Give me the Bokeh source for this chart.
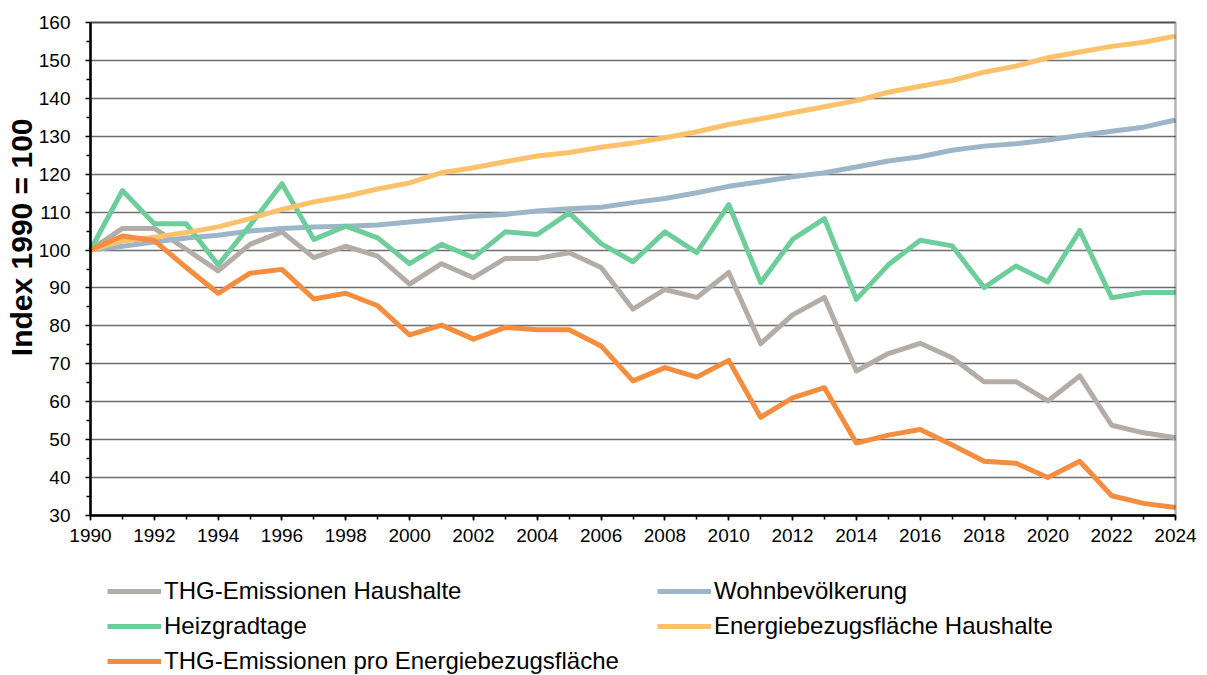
from bokeh.plotting import figure
from bokeh.models import FixedTicker, Legend, LegendItem, Range1d, BoxAnnotation, Title
from bokeh.embed import file_html
from bokeh.resources import INLINE

years = list(range(1990, 2025))

thg_haushalte = [100, 105.7, 105.7, 100.2, 94.5, 101.5, 104.8, 98.0, 101.0, 98.4,
                 91.0, 96.4, 92.7, 97.8, 97.8, 99.3, 95.4, 84.4, 89.6, 87.5,
                 94.1, 75.3, 82.9, 87.5, 68.1, 72.7, 75.4, 71.6, 65.3, 65.3,
                 60.2, 66.8, 53.8, 51.8, 50.5]
wohnbevoelkerung = [100, 101.0, 102.1, 103.2, 103.9, 105.0, 105.7, 106.1, 106.3, 106.6,
                    107.4, 108.1, 108.9, 109.4, 110.3, 110.9, 111.3, 112.5, 113.6, 115.1,
                    116.8, 118.0, 119.3, 120.4, 121.9, 123.5, 124.6, 126.3, 127.4, 128.0,
                    129.0, 130.2, 131.3, 132.4, 134.3]
heizgradtage = [100, 115.7, 106.9, 106.9, 96.1, 106.5, 117.5, 102.8, 106.3, 103.2,
                96.4, 101.5, 98.0, 104.8, 104.1, 109.8, 101.7, 96.9, 104.8, 99.3,
                112.0, 91.4, 102.8, 108.3, 87.0, 96.1, 102.6, 101.1, 90.1, 95.8,
                91.6, 105.2, 87.4, 88.8, 88.8]
energiebezugsflaeche = [100, 102.4, 103.4, 104.6, 106.1, 108.3, 110.7, 112.7, 114.2, 116.1,
                        117.7, 120.4, 121.7, 123.3, 124.8, 125.7, 127.1, 128.2, 129.6, 131.2,
                        133.1, 134.6, 136.2, 137.8, 139.4, 141.6, 143.2, 144.7, 146.9, 148.5,
                        150.7, 152.2, 153.7, 154.8, 156.4]
thg_pro_ebf = [100, 103.7, 102.5, 95.4, 88.6, 93.9, 94.9, 87.1, 88.6, 85.3,
               77.6, 80.2, 76.5, 79.6, 79.0, 79.0, 74.7, 65.5, 69.0, 66.5,
               70.9, 55.9, 61.0, 63.7, 49.1, 51.2, 52.7, 48.6, 44.3, 43.8,
               40.0, 44.3, 35.2, 33.2, 32.1]

x_major = list(range(1990, 2025, 2))
x_minor = list(range(1990, 2025, 1))
y_major = list(range(30, 161, 10))
y_minor = list(range(35, 160, 10))

FONT = "Liberation Sans"

# ---- layout (pixels) ----
W_FIG, H_FIG = 1205, 675
FRAME_L, FRAME_T = 38, 0           # frame covers the whole drawing incl. legend
X0_PX, X1_PX = 90, 1175            # pixel columns of 1990 and 2024
Y160_PX, Y30_PX = 22, 515          # pixel rows of 160 and 30
XMIN, XMAX, YMIN, YMAX = 1990, 2024, 30, 160
ppx = (X1_PX - X0_PX) / (XMAX - XMIN)
ppy = (Y30_PX - Y160_PX) / (YMAX - YMIN)
x_lo = XMIN - (X0_PX - FRAME_L) / ppx
x_hi = XMAX + (W_FIG - X1_PX) / ppx
y_hi = YMAX + (Y160_PX - FRAME_T) / ppy
y_lo = YMIN - (H_FIG - Y30_PX) / ppy

p = figure(width=W_FIG, height=H_FIG, x_range=Range1d(x_lo, x_hi), y_range=Range1d(y_lo, y_hi),
           output_backend="svg", toolbar_location=None,
           min_border_left=FRAME_L, min_border_right=0, min_border_top=FRAME_T, min_border_bottom=0)

p.outline_line_color = None
p.xgrid.visible = False
p.ygrid.grid_line_color = "#6e6e6e"
p.ygrid.grid_line_width = 1.5
p.ygrid.ticker = FixedTicker(ticks=y_major)
p.background_fill_color = "white"
p.border_fill_color = "white"

try:
    p.ygrid.cross_bounds = (XMIN, XMAX)
except Exception:
    p.add_layout(BoxAnnotation(right=XMIN, fill_color="white", fill_alpha=1,
                               line_alpha=0, level="underlay"))
    p.add_layout(BoxAnnotation(left=XMAX, fill_color="white", fill_alpha=1,
                               line_alpha=0, level="underlay"))

p.xaxis.ticker = FixedTicker(ticks=x_major, minor_ticks=x_minor)
p.yaxis.ticker = FixedTicker(ticks=y_major, minor_ticks=y_minor)
p.xaxis.fixed_location = YMIN
p.yaxis.fixed_location = XMIN
p.xaxis.bounds = (XMIN, XMAX)
p.yaxis.bounds = (YMIN, YMAX)

for ax in (p.xaxis[0], p.yaxis[0]):
    ax.axis_line_color = "black"
    ax.axis_line_width = 2.5
    ax.major_tick_line_color = "black"
    ax.minor_tick_line_color = "black"
    ax.major_tick_line_width = 1.5
    ax.minor_tick_line_width = 1.5
    ax.major_tick_in = 0
    ax.major_tick_out = 5
    ax.minor_tick_in = 0
    ax.minor_tick_out = 4
    ax.major_label_text_font = FONT
    ax.major_label_text_font_size = "19px"
    ax.major_label_text_color = "black"

p.yaxis.major_label_standoff = 15
p.xaxis.major_label_standoff = 8

ytitle = Title(text="Index 1990 = 100", align="right", offset=118, standoff=2,
               text_font=FONT, text_font_style="bold", text_font_size="30px", text_color="black")
p.add_layout(ytitle, "left")

frame_box = BoxAnnotation(left=XMIN, right=XMAX, bottom=YMIN, top=YMAX,
                          fill_alpha=0, line_color="black", line_width=2.5)
p.add_layout(frame_box)

W = 5
r_thg = p.line(years, thg_haushalte, line_color="#b4ada7", line_width=W, line_join="round")
r_wohn = p.line(years, wohnbevoelkerung, line_color="#9db5c8", line_width=W, line_join="round")
r_heiz = p.line(years, heizgradtage, line_color="#6dcd9b", line_width=W, line_join="round")
r_ebf = p.line(years, energiebezugsflaeche, line_color="#fcc16b", line_width=W, line_join="round")
r_pro = p.line(years, thg_pro_ebf, line_color="#f48d3d", line_width=W, line_join="round")

legend = Legend(items=[LegendItem(label="THG-Emissionen Haushalte", renderers=[r_thg]),
                       LegendItem(label="Heizgradtage", renderers=[r_heiz]),
                       LegendItem(label="THG-Emissionen pro Energiebezugsfläche", renderers=[r_pro]),
                       LegendItem(label="Wohnbevölkerung", renderers=[r_wohn]),
                       LegendItem(label="Energiebezugsfläche Haushalte", renderers=[r_ebf])],
                location=(107 - FRAME_L, 0), orientation="vertical", nrows=3)
legend.padding = 0
legend.margin = 0
legend.spacing = 7
legend.glyph_width = 54
legend.glyph_height = 24
legend.label_height = 24
legend.label_width = 486
legend.label_standoff = 3
legend.label_text_font = FONT
legend.label_text_font_size = "24px"
legend.label_text_color = "black"
legend.border_line_alpha = 0
legend.background_fill_alpha = 0
p.add_layout(legend, "center")

open("out.html", "w").write(file_html(p, INLINE))
